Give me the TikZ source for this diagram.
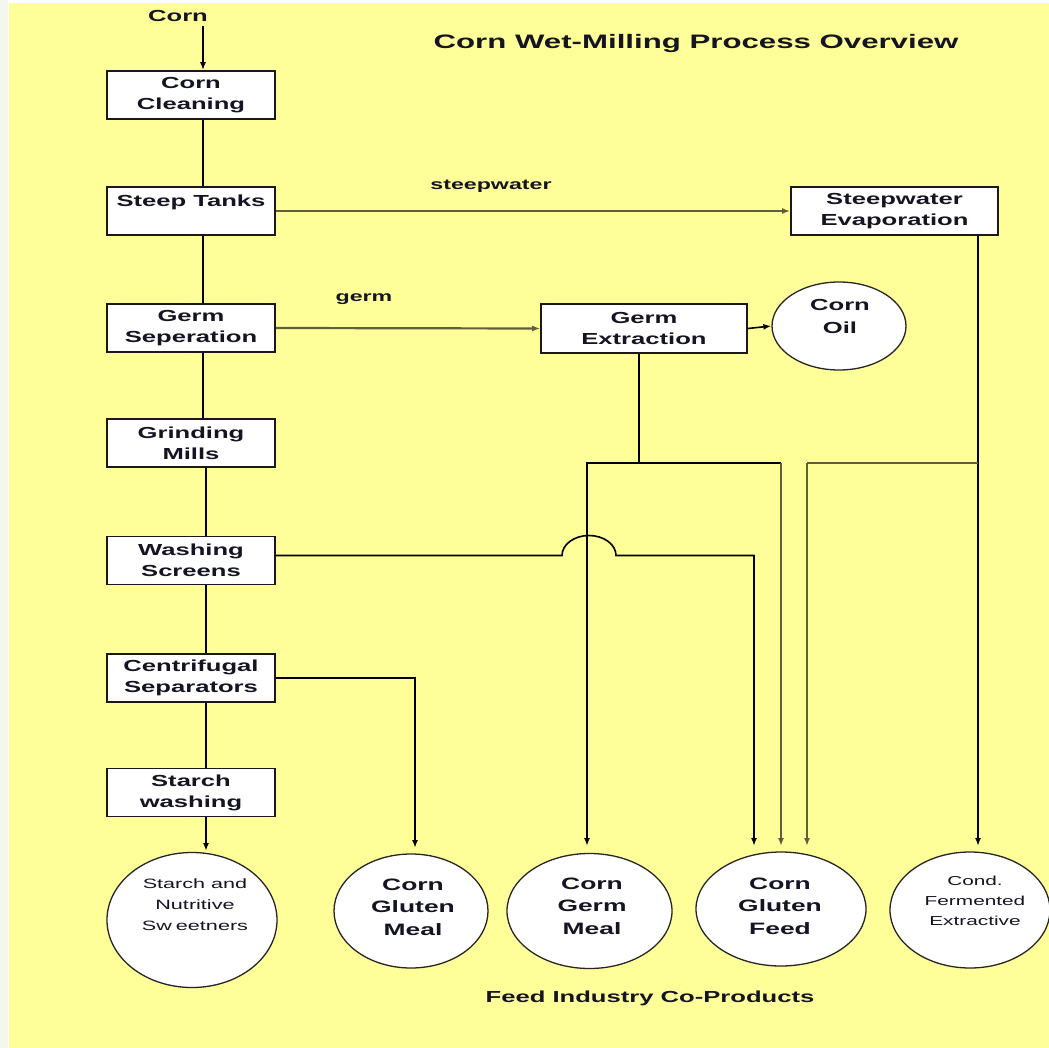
\documentclass[tikz,border=0pt]{standalone}
\usepackage{fontspec}
\newfontfamily\af{Liberation Sans}[FakeStretch=1.6]
\usetikzlibrary{shapes.geometric,arrows.meta}
\definecolor{bgy}{RGB}{255,255,153}
\definecolor{lineg}{RGB}{95,95,62}
\definecolor{strip}{RGB}{243,247,238}
\definecolor{txt}{RGB}{20,20,35}
\begin{document}
\begin{tikzpicture}[x=1pt,y=-1pt,
  box/.style={draw=black!90, line width=1.6pt, fill=white, minimum width=168pt, minimum height=48pt,
    inner sep=0pt, align=center, text=txt, font=\af\bfseries\fontsize{16}{21}\selectfont},
  ell/.style={draw=black!85, ellipse, line width=1.3pt, fill=white, inner sep=0pt},
  btxt/.style={align=center, inner sep=0pt, text=txt, font=\af\bfseries\fontsize{16}{21}\selectfont},
  ctxt/.style={align=center, inner sep=0pt, text=txt, font=\af\bfseries\fontsize{16.5}{22.5}\selectfont},
  rtxt/.style={align=center, inner sep=0pt, text=txt, font=\af\fontsize{13.5}{21}\selectfont},
  ltxt/.style={inner sep=0pt, text=txt, font=\af\bfseries\fontsize{14.5}{18}\selectfont},
  ln/.style={line width=1.6pt, draw=black},
  arr/.style={line width=1.6pt, draw=black, -{Latex[length=8pt,width=6pt]}},
  gln/.style={line width=2.2pt, draw=lineg},
  garr/.style={line width=2.2pt, draw=lineg, -{Latex[length=8pt,width=6pt]}}]
\useasboundingbox (0,0) rectangle (1049,1048);
\fill[white] (0,0) rectangle (1049,1048);
\fill[strip] (0,0) rectangle (8,1048);
\fill[bgy] (9,3) rectangle (1049,1048);

% titles
\node[btxt, font=\af\bfseries\fontsize{19.5}{23}\selectfont] (title) at (696,44) {Corn Wet-Milling Process Overview};
\node[btxt] (feed) at (650,998) {Feed Industry Co-Products};
\node[btxt] (corn) at (178,16) {Corn};

% left column
\node[box] (cc) at (191,95) {Corn\\Cleaning};
\node[box] (st) at (191,211) {Steep Tanks\\~};
\node[box] (gs) at (191,328) {Germ\\Seperation};
\node[box] (gm) at (191,443) {Grinding\\Mills};
\node[box] (ws) at (191,560.5) {Washing\\Screens};
\node[box] (cs) at (191,678) {Centrifugal\\Separators};
\node[box] (sw) at (191,792.5) {Starch\\washing};

% right boxes
\node[box, minimum width=207pt] (se) at (894.5,211) {Steepwater\\Evaporation};
\node[box, minimum width=206pt, minimum height=49pt] (ge) at (644,328.5) {Germ\\Extraction};
\node[ell, minimum width=134pt, minimum height=88pt] (oil) at (839,326) {};
\node[btxt, font=\af\bfseries\fontsize{16}{23}\selectfont] (oilt) at (840,316) {Corn\\Oil};

% bottom ellipses
\node[ell, minimum width=170pt, minimum height=135pt] (sns) at (192,920) {};
\node[rtxt] (snst) at (195,905) {Starch and\\Nutritive\\Sw\hspace{4pt}eetners};
\node[ell, minimum width=154pt, minimum height=114pt] (cgm) at (411,911) {};
\node[ctxt] (cgmt) at (413,907) {Corn\\Gluten\\Meal};
\node[ell, minimum width=165pt, minimum height=115pt] (cgerm) at (589.5,911) {};
\node[ctxt] (cgermt) at (592,906) {Corn\\Germ\\Meal};
\node[ell, minimum width=170pt, minimum height=114pt] (cgf) at (781,909) {};
\node[ctxt] (cgft) at (780,906) {Corn\\Gluten\\Feed};
\node[ell, minimum width=160pt, minimum height=116pt] (cfe) at (970,910) {};
\node[rtxt, font=\af\fontsize{13}{20}\selectfont] (cfet) at (975,901) {Cond.\\Fermented\\Extractive};

% labels
\node[ltxt] (lsw) at (491,186) {steepwater};
\node[ltxt] (lg) at (364,299) {germ};

% coordinates
\coordinate (cornIn) at (203,26);
\coordinate (sp1) at (203,0);
\coordinate (sp2) at (206,0);
\coordinate (gex) at (639,463);
\coordinate (sej) at (978,463);
\coordinate (hopL) at (562,555.5);
\coordinate (hopR) at (616,555.5);
\coordinate (tgerm) at (587,846);
\coordinate (tgf1) at (754,846);
\coordinate (tgf2) at (781,846);
\coordinate (tgf3) at (807,846);
\coordinate (tcfe) at (978,846);
\coordinate (tcgm) at (415,848);
\coordinate (tsns) at (206,851);

% spine
\draw[arr] (cornIn) -- (cc.north -| cornIn);
\draw[ln] (cc.south -| sp1) -- (st.north -| sp1);
\draw[ln] (st.south -| sp1) -- (gs.north -| sp1);
\draw[ln] (gs.south -| sp1) -- (gm.north -| sp1);
\draw[ln] (gm.south -| sp2) -- (ws.north -| sp2);
\draw[ln] (ws.south -| sp2) -- (cs.north -| sp2);
\draw[ln] (cs.south -| sp2) -- (sw.north -| sp2);
\draw[arr] (sw.south -| tsns) -- (tsns);

% side flows
\draw[garr] (st.east) -- (se.west);
\draw[garr] (gs.east) -- (ge.west);
\draw[arr] (ge.east) -- (oil.west);
\draw[ln] (ge.south -| gex) -- (gex);
\draw[arr] (gex) -| (tgerm);
\draw[ln] (gex) -- (gex -| tgf2);
\draw[garr] (gex -| tgf2) -- (tgf2);
\draw[arr] (se.south -| tcfe) -- (tcfe);
\draw[gln] (sej) -- (sej -| tgf3);
\draw[garr] (sej -| tgf3) -- (tgf3);
\draw[arr] ([yshift=5pt]ws.east) -- (hopL) arc[start angle=180, end angle=0, x radius=27pt, y radius=20pt] -- (hopR -| tgf1) -- (tgf1);
\draw[arr] (cs.east) -| (tcgm);
\end{tikzpicture}
\end{document}
